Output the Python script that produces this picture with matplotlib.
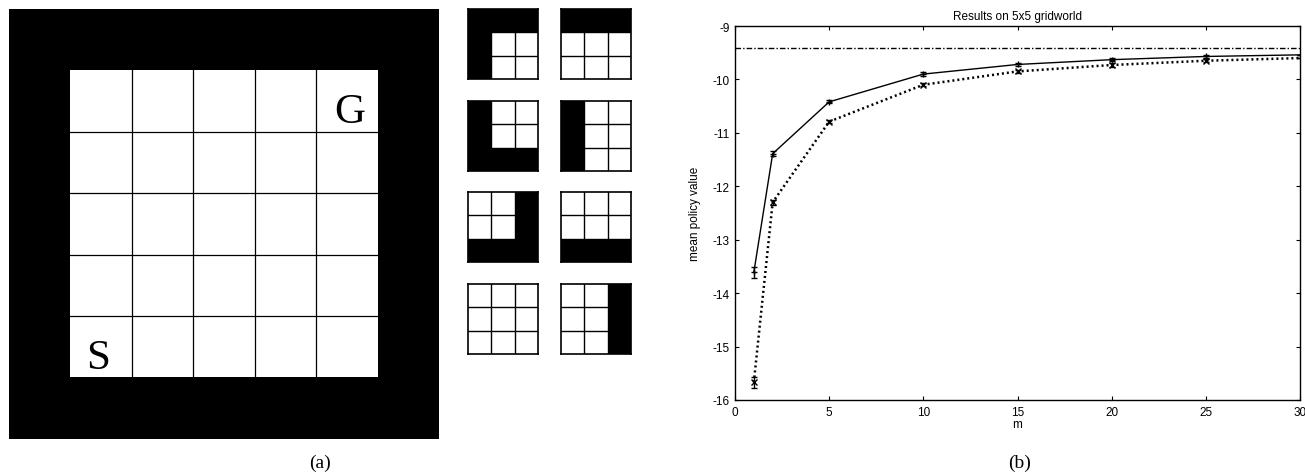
import numpy as np
import matplotlib
matplotlib.use("Agg")
import matplotlib.pyplot as plt

plt.rcParams["axes.unicode_minus"] = False

# ---- data -----------------------------------------------------------------
# gridworld (a): 7x7 map, 1 = wall, 0 = free cell
world = np.array([
    [1, 1, 1, 1, 1, 1, 1],
    [1, 0, 0, 0, 0, 0, 1],
    [1, 0, 0, 0, 0, 0, 1],
    [1, 0, 0, 0, 0, 0, 1],
    [1, 0, 0, 0, 0, 0, 1],
    [1, 0, 0, 0, 0, 0, 1],
    [1, 1, 1, 1, 1, 1, 1],
])
start_cell = (5, 1)   # (row, col)
goal_cell = (1, 5)

# 3x3 local views shown next to the gridworld, row by row (2 per row)
views = [
    [[1, 1, 1], [1, 0, 0], [1, 0, 0]],
    [[1, 1, 1], [0, 0, 0], [0, 0, 0]],
    [[1, 0, 0], [1, 0, 0], [1, 1, 1]],
    [[1, 0, 0], [1, 0, 0], [1, 0, 0]],
    [[0, 0, 1], [0, 0, 1], [1, 1, 1]],
    [[0, 0, 0], [0, 0, 0], [1, 1, 1]],
    [[0, 0, 0], [0, 0, 0], [0, 0, 0]],
    [[0, 0, 1], [0, 0, 1], [0, 0, 1]],
]

# results (b)
m_vals = [1, 2, 5, 10, 15, 20, 25, 30]
solid_vals = [-13.61, -11.39, -10.42, -9.90, -9.72, -9.63, -9.57, -9.54]
solid_err = [0.10, 0.05, 0.03, 0.03, 0.03, 0.03, 0.03, 0.0]
dotted_vals = [-15.67, -12.30, -10.79, -10.10, -9.85, -9.73, -9.65, -9.60]
dotted_err = [0.10, 0.05, 0.03, 0.03, 0.03, 0.03, 0.03, 0.0]
optimal_val = -9.41

W, H = 1305, 477
fig = plt.figure(figsize=(W / 100, H / 100), dpi=100)
fig.patch.set_facecolor("white")


def px_axes(x0, y0, x1, y1):
    # axes from pixel box (top-left origin)
    return fig.add_axes([x0 / W, 1 - y1 / H, (x1 - x0) / W, (y1 - y0) / H])


# ---- (a) gridworld --------------------------------------------------------
ax_w = px_axes(8, 10, 440, 440)
ax_w.imshow(world, cmap="gray_r", vmin=0, vmax=1, extent=(0, 7, 7, 0),
            interpolation="nearest")
for k in range(2, 6):
    ax_w.plot([1, 6], [k, k], color="black", lw=0.9)
    ax_w.plot([k, k], [1, 6], color="black", lw=0.9)
ax_w.text(goal_cell[1] + 0.55, goal_cell[0] + 0.68, "G", fontsize=31,
          family="Liberation Serif", ha="center", va="center")
ax_w.text(start_cell[1] + 0.45, start_cell[0] + 0.68, "S", fontsize=31,
          family="Liberation Serif", ha="center", va="center")
ax_w.set_xlim(0, 7)
ax_w.set_ylim(7, 0)
ax_w.axis("off")

# local views
col_x = [468, 561]
row_y = [10, 102, 193, 285]
tile = 70
for i, v in enumerate(views):
    x0 = col_x[i % 2]
    y0 = row_y[i // 2]
    ax_t = px_axes(x0, y0, x0 + tile, y0 + tile)
    ax_t.imshow(np.array(v), cmap="gray_r", vmin=0, vmax=1,
                extent=(0, 3, 3, 0), interpolation="nearest")
    for k in range(1, 3):
        ax_t.axhline(k, color="black", lw=1.0)
        ax_t.axvline(k, color="black", lw=1.0)
    ax_t.set_xticks([])
    ax_t.set_yticks([])
    for s in ax_t.spines.values():
        s.set_linewidth(1.2)

fig.text(320 / W, 1 - 463 / H, "(a)", fontsize=14, family="Liberation Serif",
         ha="center", va="center")

# ---- (b) results ----------------------------------------------------------
ax = px_axes(735, 27, 1300, 401)
ax.axhline(optimal_val, color="black", lw=1.0, ls=(0, (4, 1.5, 1, 1.5)))
ax.errorbar(m_vals, solid_vals, yerr=solid_err, color="black", lw=1.0,
            marker="+", ms=4, capsize=2, elinewidth=1.0, markevery=7 * [True] + [False])
ax.errorbar(m_vals, dotted_vals, yerr=dotted_err, color="black", lw=1.8,
            ls=(0, (0.8, 1.2)), marker="x", ms=4, capsize=2, elinewidth=1.0,
            markevery=7 * [True] + [False])
ax.set_xlim(0, 30)
ax.set_ylim(-16, -9)
ax.set_xticks(range(0, 31, 5))
ax.set_yticks(range(-16, -8))
ax.tick_params(direction="in", top=True, right=True, length=3, width=0.8,
               labelsize=8.5, pad=4)
for lab in ax.get_xticklabels() + ax.get_yticklabels():
    lab.set_family("Liberation Sans")
for s in ax.spines.values():
    s.set_linewidth(1.0)
ax.set_title("Results on 5x5 gridworld", fontsize=8.5, family="Liberation Sans",
             pad=5)
ax.set_xlabel("m", fontsize=8.5, family="Liberation Sans", labelpad=0)
ax.set_ylabel("mean policy value", fontsize=8.5, family="Liberation Sans",
              labelpad=8)

fig.text(1020 / W, 1 - 463 / H, "(b)", fontsize=14, family="Liberation Serif",
         ha="center", va="center")

fig.savefig("out.png", dpi=100, facecolor="white")
